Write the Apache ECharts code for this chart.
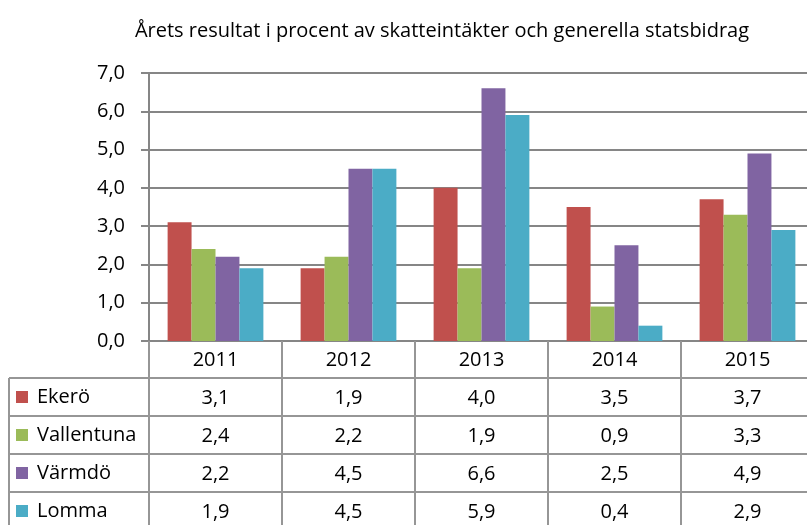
<!DOCTYPE html>
<html>
<head>
<meta charset="utf-8">
<script src="https://cdn.jsdelivr.net/npm/echarts@6/dist/echarts.min.js"></script>
<style>
  html, body { margin: 0; padding: 0; background: #fff; }
  #chart { width: 807px; height: 525px; }
</style>
</head>
<body>
<div id="chart"></div>
<script>
const years = ['2011', '2012', '2013', '2014', '2015']
const seriesNames = ['Ekerö', 'Vallentuna', 'Värmdö', 'Lomma']
const ekero = [3.1, 1.9, 4.0, 3.5, 3.7]
const vallentuna = [2.4, 2.2, 1.9, 0.9, 3.3]
const varmdo = [2.2, 4.5, 6.6, 2.5, 4.9]
const lomma = [1.9, 4.5, 5.9, 0.4, 2.9]
const colors = ['#C0504D', '#9BBB59', '#8064A2', '#4BACC6']

const allValues = [ekero, vallentuna, varmdo, lomma]
const font = '"Open Sans", "Noto Sans", sans-serif'
const fmt = (v) => v.toFixed(1).replace('.', ',')

const chart = echarts.init(document.getElementById('chart'))

// table rows (legend keys + names) below the plot
const rowTops = [378, 416, 454, 492]
const lineColor = '#969696'
const graphics = []
rowTops.forEach((y, i) => {
  graphics.push({
    type: 'line', shape: { x1: 9, y1: y, x2: 807, y2: y },
    style: { stroke: lineColor, lineWidth: 2 }
  })
  graphics.push({
    type: 'rect', shape: { x: 16, y: y + 13, width: 12, height: 12 },
    style: { fill: colors[i] }
  })
  graphics.push({
    type: 'text', x: 37, y: y + 19,
    style: { text: seriesNames[i], font: '20px ' + font, fill: '#000', verticalAlign: 'middle' }
  })
})
graphics.push({
  type: 'line', shape: { x1: 9, y1: 378, x2: 9, y2: 525 },
  style: { stroke: lineColor, lineWidth: 2 }
})

const option = {
  animation: false,
  title: {
    text: 'Årets resultat i procent av skatteintäkter och generella statsbidrag',
    left: 437, top: 16, textAlign: 'center',
    textStyle: { fontFamily: font, fontSize: 20, fontWeight: 'normal', color: '#000' }
  },
  grid: { left: 149, right: -7, top: 73, bottom: 184, containLabel: false, outerBoundsMode: 'none' },
  xAxis: {
    type: 'category',
    data: years,
    axisLine: { show: true, lineStyle: { color: '#868686', width: 2 } },
    axisTick: { show: true, length: 184, interval: 0, lineStyle: { color: lineColor, width: 2 } },
    axisLabel: {
      interval: 0,
      margin: 0,
      color: '#000',
      fontFamily: font,
      fontSize: 20,
      lineHeight: 38,
      formatter: (value, idx) => [value].concat(allValues.map(arr => fmt(arr[idx]))).join('\n')
    }
  },
  yAxis: {
    type: 'value',
    min: 0, max: 7, interval: 1,
    axisLine: { show: true, lineStyle: { color: '#868686', width: 2 } },
    axisTick: { show: true, length: 8, lineStyle: { color: '#868686', width: 2 } },
    axisLabel: { color: '#000', fontFamily: font, fontSize: 20, margin: 24, formatter: fmt },
    splitLine: { lineStyle: { color: '#868686', width: 2 } }
  },
  series: allValues.map((data, i) => ({
    name: seriesNames[i],
    type: 'bar',
    data: data,
    barGap: '0%',
    barCategoryGap: '28%',
    itemStyle: { color: colors[i] }
  })),
  graphic: graphics
}

chart.setOption(option)
</script>
</body>
</html>
